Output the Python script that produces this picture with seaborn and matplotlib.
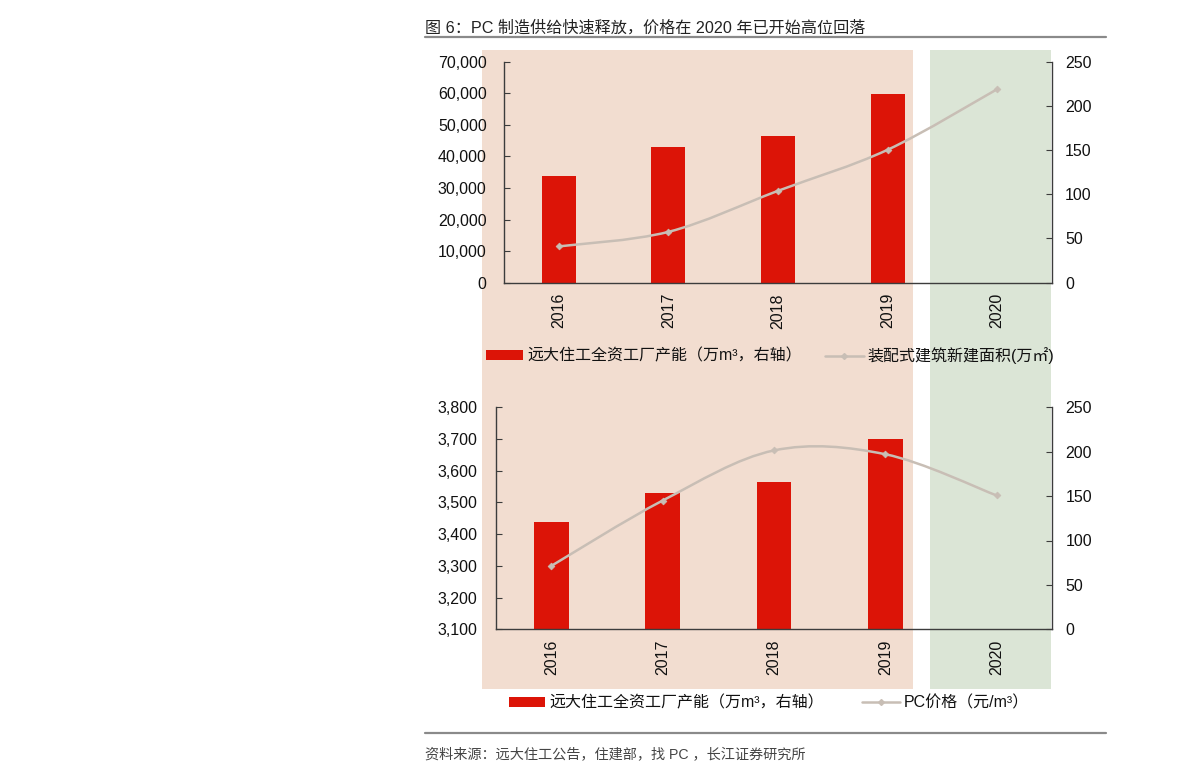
import numpy as np
import pandas as pd
import matplotlib
matplotlib.use("Agg")
import matplotlib.pyplot as plt
import seaborn as sns
from matplotlib.path import Path
from matplotlib.patches import PathPatch, Rectangle, Patch
from matplotlib.lines import Line2D
from matplotlib.ticker import FuncFormatter, FixedLocator

# ---------------- data ----------------
years = [2016, 2017, 2018, 2019, 2020]
bar_years = [2016, 2017, 2018, 2019]
capacity = [121, 154, 166, 214]            # 远大住工全资工厂产能 (万m³, 右轴)
new_area = [11500, 16100, 29100, 42100, 61300]   # 装配式建筑新建面积 (万㎡)
pc_price = [3300, 3506, 3664, 3652, 3522]  # PC价格 (元/m³)

title = "图 6：PC 制造供给快速释放，价格在 2020 年已开始高位回落"
source = "资料来源：远大住工公告，住建部，找 PC ，长江证券研究所"
bar_label = "远大住工全资工厂产能（万m³，右轴）"
line_label_top = "装配式建筑新建面积(万㎡)"
line_label_bot = "PC价格（元/m³）"

# ---------------- style ----------------
sns.set_theme(style="white")
FAM = ["Liberation Sans", "Noto Sans CJK SC", "DejaVu Sans"]
plt.rcParams["font.family"] = FAM
plt.rcParams["axes.unicode_minus"] = False

RED = "#DC1407"
LINE = "#C8BEB5"
PEACH = "#F2DDD0"
GREEN = "#DBE5D6"
SPINE = "#3c3c3c"
FS = 11.5

W, H = 1191, 781
fig = plt.figure(figsize=(W / 100, H / 100), dpi=100)
fig.patch.set_facecolor("white")

def fx(px):
    return px / W

def fy(py):
    return 1 - py / H

# background bands
fig.add_artist(Rectangle((fx(482), fy(689)), fx(912.7) - fx(482), (689 - 50) / H,
                         transform=fig.transFigure, facecolor=PEACH, edgecolor="none", zorder=-10))
fig.add_artist(Rectangle((fx(930), fy(689)), fx(1050.5) - fx(930), (689 - 50) / H,
                         transform=fig.transFigure, facecolor=GREEN, edgecolor="none", zorder=-10))

# title and rules
fig.text(fx(425), fy(28), title, fontsize=11.6, va="center", ha="left", color="#222222")
fig.add_artist(Line2D([fx(425), fx(1106)], [fy(37), fy(37)], color="#8a8a8a", lw=1.6,
                      transform=fig.transFigure))
fig.add_artist(Line2D([fx(425), fx(1106)], [fy(733), fy(733)], color="#8a8a8a", lw=1.6,
                      transform=fig.transFigure))
fig.text(fx(425), fy(754), source, fontsize=10.2, va="center", ha="left", color="#444444")


def smooth_path(xs, ys):
    pts = np.column_stack([np.asarray(xs, float), np.asarray(ys, float)])
    n = len(pts)
    verts = [pts[0]]
    codes = [Path.MOVETO]
    for i in range(n - 1):
        p0 = pts[max(i - 1, 0)]
        p1 = pts[i]
        p2 = pts[i + 1]
        p3 = pts[min(i + 2, n - 1)]
        c1 = p1 + (p2 - p0) / 6.0
        c2 = p2 - (p3 - p1) / 6.0
        verts += [c1, c2, p2]
        codes += [Path.CURVE4] * 3
    return Path(verts, codes)


def make_panel(rect, line_vals, lylim, lyticks, lfmt, pad_left):
    ax = fig.add_axes(rect)
    ax2 = ax.twinx()
    # bars on right axis
    sns.barplot(x=bar_years, y=capacity, native_scale=True, orient="x", width=0.31,
                color=RED, saturation=1, ax=ax2, zorder=2, linewidth=0, edgecolor=RED)
    ax2.set_ylim(0, 250)
    ax2.set_yticks([0, 50, 100, 150, 200, 250])
    # line on left axis, drawn above the bars
    ax.set_zorder(ax2.get_zorder() + 1)
    ax.patch.set_visible(False)
    ax2.patch.set_visible(False)
    ax.add_patch(PathPatch(smooth_path(years, line_vals), fill=False, edgecolor=LINE,
                           lw=1.8, transform=ax.transData, zorder=3))
    sns.scatterplot(x=years, y=line_vals, marker="D", s=12, color=LINE, edgecolor=LINE,
                    linewidth=0.5, ax=ax, zorder=4, legend=False)
    ax.set_ylim(*lylim)
    ax.set_yticks(lyticks)
    ax.yaxis.set_major_formatter(FuncFormatter(lfmt))
    ax.set_xlim(2015.5, 2020.5)
    ax.xaxis.set_major_locator(FixedLocator(years))
    ax.set_xticklabels([str(y) for y in years], rotation=90)
    ax.xaxis.set_minor_locator(FixedLocator([2016.5, 2017.5, 2018.5, 2019.5]))
    ax.tick_params(axis="x", which="major", length=0, pad=7.5, labelsize=FS, labelcolor="#111111")
    ax.tick_params(axis="x", which="minor", length=4, direction="in", color=SPINE, width=0.8)
    ax.tick_params(axis="y", which="major", length=4, direction="in", color=SPINE, width=0.8,
                   pad=pad_left, labelsize=FS, labelcolor="#111111", left=True)
    ax2.tick_params(axis="y", which="major", length=4, direction="in", color=SPINE, width=0.8,
                    pad=9.5, labelsize=FS, labelcolor="#111111", right=True)
    ax.set_xlabel("")
    ax.set_ylabel("")
    ax2.set_xlabel("")
    ax2.set_ylabel("")
    ax.grid(False)
    ax2.grid(False)
    for s in ["top", "right"]:
        ax.spines[s].set_visible(False)
    for s in ["top", "left", "bottom"]:
        ax2.spines[s].set_visible(False)
    for s in ["left", "bottom"]:
        ax.spines[s].set_color(SPINE)
        ax.spines[s].set_linewidth(1.0)
        ax.spines[s].set_visible(True)
    ax2.spines["right"].set_color(SPINE)
    ax2.spines["right"].set_linewidth(1.0)
    ax2.spines["right"].set_visible(True)
    return ax, ax2


comma = lambda v, p: f"{int(round(v)):,}"

make_panel([fx(504), fy(282.7), 548 / W, 221 / H], new_area, (0, 70000),
           list(range(0, 70001, 10000)), comma, 12.5)
make_panel([fx(495.7), fy(629.3), 556.6 / W, 222 / H], pc_price, (3100, 3800),
           list(range(3100, 3801, 100)), comma, 13)


def legend_entry(handle, label, x, y, hl):
    fig.legend([handle], [label], loc="center left", bbox_to_anchor=(fx(x), fy(y)),
               bbox_transform=fig.transFigure, frameon=False, fontsize=FS,
               borderpad=0, borderaxespad=0, handlelength=hl, handleheight=0.63,
               handletextpad=0.25, numpoints=1, labelcolor="#111111")


bar_handle = Patch(facecolor=RED, edgecolor="none")
line_handle = Line2D([0], [0], color=LINE, lw=1.8, marker="D", markersize=3,
                     markerfacecolor=LINE, markeredgecolor=LINE)

legend_entry(bar_handle, bar_label, 486, 356, 37 / 16)
legend_entry(line_handle, line_label_top, 825, 356, 39 / 16)
legend_entry(bar_handle, bar_label, 509, 703, 36 / 16)
legend_entry(line_handle, line_label_bot, 862, 703, 38 / 16)

fig.savefig("out.png", dpi=100, facecolor="white")
